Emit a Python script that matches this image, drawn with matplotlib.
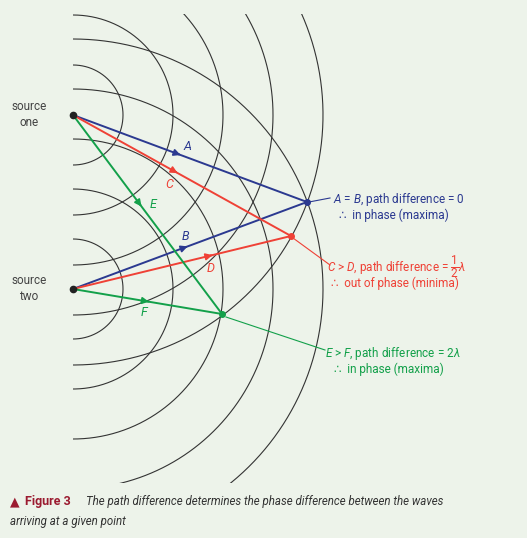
import matplotlib.pyplot as plt
import numpy as np

plt.rcParams["font.family"] = ["Roboto", "DejaVu Sans"]
plt.rcParams["mathtext.fontset"] = "custom"
plt.rcParams["mathtext.it"] = "Roboto:italic"
plt.rcParams["mathtext.rm"] = "Roboto"

# geometry in image pixels
src_one = (73, 115)
src_two = (73, 289)
radii = [50, 100, 150, 200, 250]
pt_ab = (307, 202)
pt_cd = (291, 236)
pt_ef = (222, 314)

blue = "#2b3990"
red = "#ef4136"
green = "#13a04a"
bg = "#edf3ea"

fig = plt.figure(figsize=(5.27, 5.38), dpi=100)
fig.patch.set_facecolor(bg)
ax = fig.add_axes([0, 0, 1, 1])
ax.set_xlim(0, 527)
ax.set_ylim(538, 0)
ax.axis("off")
ax.set_facecolor(bg)

clip = plt.Rectangle((73, 14), 400, 469, transform=ax.transData)
for sx, sy in (src_one, src_two):
    for r in radii:
        t = np.linspace(-np.pi / 2, np.pi / 2, 400)
        ln, = ax.plot(sx + r * np.cos(t), sy + r * np.sin(t), color="#333333", lw=0.8)
        ln.set_clip_path(clip)


def ray(p0, p1, color, label, lpos, frac):
    ax.plot([p0[0], p1[0]], [p0[1], p1[1]], color=color, lw=1.4)
    mx = p0[0] + frac * (p1[0] - p0[0])
    my = p0[1] + frac * (p1[1] - p0[1])
    dx, dy = (p1[0] - p0[0]) * 0.01, (p1[1] - p0[1]) * 0.01
    ax.annotate("", xy=(mx + dx, my + dy), xytext=(mx - dx, my - dy),
                arrowprops=dict(arrowstyle="-|>", color=color, lw=1.2, mutation_scale=10))
    ax.text(lpos[0], lpos[1], label, color=color, fontsize=9, style="italic",
            ha="center", va="center")


ray(src_one, pt_ab, blue, "A", (187, 146), 0.45)
ray(src_two, pt_ab, blue, "B", (185, 236), 0.48)
ray(src_one, pt_cd, red, "C", (169, 184), 0.47)
ray(src_two, pt_cd, red, "D", (211, 268), 0.63)
ray(src_one, pt_ef, green, "E", (153, 205), 0.45)
ray(src_two, pt_ef, green, "F", (144, 313), 0.5)

for p, c in ((pt_ab, blue), (pt_cd, red), (pt_ef, green)):
    ax.plot(*p, "o", color=c, ms=4)
for p in (src_one, src_two):
    ax.plot(*p, "o", color="#222222", ms=4.5)

ax.text(29, 115, "source\none", ha="center", va="center", fontsize=8.5, color="#444444",
        linespacing=1.3)
ax.text(29, 288, "source\ntwo", ha="center", va="center", fontsize=8.5, color="#444444",
        linespacing=1.3)

# leader lines and labels
ax.plot([309, 330], [202, 198], color=blue, lw=0.8)
ax.text(333, 199, r"$A$ = $B$, path difference = 0", color=blue, fontsize=8.5, va="center")
ax.text(339, 215, "∴  in phase (maxima)", color=blue, fontsize=8.5, va="center")

ax.plot([293, 330], [238, 265], color=red, lw=0.8)
ax.text(327, 267, r"$C$ > $D$, path difference = $\dfrac{1}{2}\lambda$", color=red,
        fontsize=8.5, va="center")
ax.text(331, 283, "∴  out of phase (minima)", color=red, fontsize=8.5, va="center")

ax.plot([226, 325], [317, 350], color=green, lw=0.8)
ax.text(325, 354, r"$E$ > $F$, path difference = 2$\lambda$", color=green,
        fontsize=8.5, va="center")
ax.text(334, 369, "∴  in phase (maxima)", color=green, fontsize=8.5, va="center")

# caption
ax.text(10, 502, "▲", color="#9b1b30", fontsize=9, va="center", family="DejaVu Sans")
ax.text(25, 502, "Figure 3", color="#9b1b30", fontsize=9, weight="bold", va="center")
ax.text(86, 502, "The path difference determines the phase difference between the waves",
        color="#333333", fontsize=8.3, style="italic", va="center")
ax.text(10, 522, "arriving at a given point", color="#333333", fontsize=8.3,
        style="italic", va="center")

fig.savefig("out.png", dpi=100, facecolor=bg)
